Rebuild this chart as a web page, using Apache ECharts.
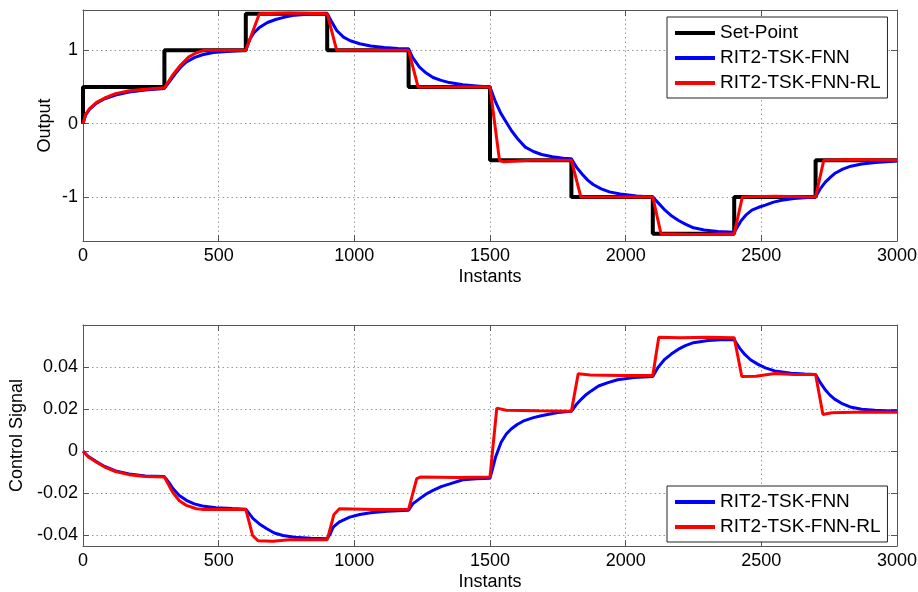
<!DOCTYPE html>
<html>
<head>
<meta charset="utf-8">
<script src="https://cdn.jsdelivr.net/npm/echarts@6/dist/echarts.min.js"></script>
<style>
  html, body { margin: 0; padding: 0; background: #fff; }
  #main { width: 918px; height: 592px; }
</style>
</head>
<body>
<div id="main"></div>
<script>
// set-point steps [instant, value]
var setPoint = [[0,0],[0,0.5],[300,0.5],[300,1],[600,1],[600,1.5],[900,1.5],[900,1],[1200,1],[1200,0.5],
  [1500,0.5],[1500,-0.5],[1800,-0.5],[1800,-1],[2100,-1],[2100,-1.5],[2400,-1.5],[2400,-1],[2700,-1],[2700,-0.5],[3000,-0.5]];

// output of RIT2-TSK-FNN (blue)
var outFnn = [[0,0],[10,0.12],[25,0.2],[50,0.28],[80,0.34],[120,0.39],[170,0.43],[230,0.46],[300,0.48],
  [320,0.58],[340,0.68],[360,0.77],[380,0.84],[410,0.9],[440,0.94],[480,0.97],[530,0.985],[600,1.0],
  [615,1.15],[630,1.24],[650,1.31],[680,1.38],[710,1.42],[740,1.45],[780,1.48],[840,1.495],[900,1.5],
  [915,1.4],[935,1.27],[960,1.18],[985,1.13],[1020,1.09],[1060,1.06],[1110,1.04],[1160,1.025],[1200,1.02],
  [1215,0.9],[1240,0.77],[1265,0.69],[1290,0.63],[1320,0.59],[1350,0.56],[1400,0.53],[1450,0.515],[1500,0.5],
  [1520,0.3],[1540,0.14],[1560,0.02],[1580,-0.1],[1605,-0.22],[1630,-0.32],[1660,-0.38],[1690,-0.42],[1730,-0.45],[1770,-0.47],[1800,-0.48],
  [1820,-0.6],[1840,-0.69],[1860,-0.77],[1880,-0.83],[1910,-0.89],[1940,-0.93],[1980,-0.96],[2040,-0.985],[2100,-1.0],
  [2120,-1.08],[2145,-1.18],[2170,-1.26],[2195,-1.32],[2220,-1.37],[2250,-1.42],[2290,-1.45],[2340,-1.47],[2400,-1.48],
  [2410,-1.42],[2426,-1.32],[2445,-1.24],[2465,-1.18],[2490,-1.14],[2515,-1.11],[2545,-1.07],[2575,-1.045],[2620,-1.02],[2700,-1.0],
  [2715,-0.9],[2735,-0.8],[2755,-0.73],[2770,-0.68],[2800,-0.62],[2830,-0.58],[2870,-0.55],[2920,-0.53],[3000,-0.51]];

// output of RIT2-TSK-FNN-RL (red)
var outFnnRl = [[0,0],[10,0.13],[25,0.21],[50,0.29],[80,0.35],[120,0.41],[170,0.45],[230,0.47],[300,0.49],
  [330,0.66],[360,0.8],[390,0.91],[420,0.97],[445,1.0],[520,1.0],[600,1.0],
  [625,1.25],[650,1.5],[760,1.51],[900,1.5],
  [935,1.0],[1100,1.0],[1200,1.0],
  [1235,0.5],[1380,0.5],[1500,0.5],
  [1535,-0.5],[1550,-0.52],[1650,-0.5],[1800,-0.5],
  [1835,-1.0],[1950,-1.0],[2100,-1.0],
  [2130,-1.5],[2250,-1.51],[2400,-1.5],
  [2430,-1.0],[2550,-0.99],[2700,-1.0],
  [2730,-0.5],[2850,-0.49],[3000,-0.5]];

// control signal of RIT2-TSK-FNN (blue)
var ctrlFnn = [[0,0],[20,-0.0025],[50,-0.005],[80,-0.0072],[120,-0.0093],[170,-0.0108],[230,-0.0117],[300,-0.012],
  [315,-0.0145],[332,-0.0178],[355,-0.021],[381,-0.0233],[410,-0.025],[440,-0.026],[490,-0.0268],[550,-0.0272],[600,-0.0275],
  [612,-0.0295],[627,-0.032],[650,-0.0345],[676,-0.0367],[705,-0.0388],[737,-0.04],[780,-0.0408],[840,-0.0413],[900,-0.0415],
  [912,-0.039],[922,-0.036],[945,-0.0335],[983,-0.0313],[1020,-0.03],[1060,-0.0292],[1120,-0.0285],[1200,-0.028],
  [1215,-0.025],[1241,-0.0225],[1265,-0.0203],[1290,-0.0186],[1320,-0.0168],[1352,-0.0155],[1400,-0.0135],[1450,-0.013],[1500,-0.0128],
  [1510,-0.008],[1520,-0.003],[1541,0.0043],[1560,0.0082],[1578,0.0106],[1600,0.0127],[1627,0.0146],[1660,0.016],[1689,0.0169],[1750,0.0184],[1800,0.019],
  [1818,0.0222],[1837,0.0248],[1855,0.027],[1873,0.0287],[1900,0.031],[1935,0.0326],[1970,0.034],[2030,0.035],[2100,0.0355],
  [2120,0.04],[2144,0.0437],[2168,0.0462],[2193,0.0484],[2220,0.0502],[2250,0.0516],[2304,0.0526],[2350,0.053],[2400,0.053],
  [2420,0.049],[2439,0.046],[2460,0.0435],[2488,0.0413],[2515,0.0396],[2549,0.0382],[2610,0.0371],[2660,0.0367],[2700,0.0365],
  [2718,0.0325],[2734,0.0295],[2752,0.0268],[2770,0.0248],[2800,0.0225],[2832,0.0209],[2870,0.02],[2918,0.0195],[3000,0.019]];

// control signal of RIT2-TSK-FNN-RL (red)
var ctrlFnnRl = [[0,0],[20,-0.0027],[50,-0.0052],[80,-0.0075],[120,-0.0096],[170,-0.0111],[230,-0.012],[300,-0.0122],
  [330,-0.0194],[355,-0.0235],[381,-0.0257],[418,-0.0273],[440,-0.0276],[520,-0.0275],[600,-0.0276],
  [625,-0.04],[645,-0.0425],[700,-0.0427],[760,-0.042],[900,-0.042],
  [925,-0.03],[945,-0.0273],[1080,-0.0276],[1200,-0.0275],
  [1230,-0.013],[1245,-0.0122],[1380,-0.0125],[1500,-0.0122],
  [1525,0.0205],[1560,0.0195],[1680,0.0192],[1800,0.019],
  [1825,0.0368],[1870,0.0362],[1980,0.036],[2100,0.036],
  [2122,0.0542],[2200,0.054],[2300,0.0542],[2400,0.054],
  [2428,0.0355],[2480,0.0357],[2550,0.037],[2620,0.0365],[2700,0.0365],
  [2727,0.0175],[2760,0.0183],[2880,0.0187],[3000,0.0185]];

var xTicks = 500;
var outTicks = [-1, 0, 1];
var ctrlTicks = [-0.04, -0.02, 0, 0.02, 0.04];

var font = 'Liberation Sans, Arial, sans-serif';
var boxColor = '#555';
var gridLine = { show: true, lineStyle: { color: '#999', type: [1.5, 3], width: 1 } };

function xAx(gi, pos, main) {
  return {
    type: 'value', gridIndex: gi, position: pos, min: 0, max: 3000, interval: xTicks,
    axisLine: { show: true, onZero: false, lineStyle: { color: boxColor, width: 1 } },
    axisTick: { show: true, inside: true, length: 6, lineStyle: { color: boxColor } },
    axisLabel: { show: main, color: '#000', fontSize: 18, fontFamily: font, margin: 6,
      formatter: function (v) { return String(v); } },
    splitLine: main ? gridLine : { show: false },
    name: main ? 'Instants' : '', nameLocation: 'middle', nameGap: 27, nameMoveOverlap: false,
    nameTextStyle: { color: '#000', fontSize: 18, fontFamily: font }
  };
}
function yAx(gi, pos, main, min, max, ticks, name, gap) {
  return {
    type: 'value', gridIndex: gi, position: pos, min: min, max: max,
    axisLine: { show: true, onZero: false, lineStyle: { color: boxColor, width: 1 } },
    axisTick: { show: true, inside: true, length: 6, customValues: ticks, lineStyle: { color: boxColor } },
    axisLabel: { show: main, customValues: ticks, color: '#000', fontSize: 18, fontFamily: font, margin: 5,
      formatter: function (v) { return String(v); } },
    splitLine: main ? gridLine : { show: false },
    name: main ? name : '', nameLocation: 'middle', nameGap: gap, nameMoveOverlap: false,
    nameTextStyle: { color: '#000', fontSize: 18, fontFamily: font }
  };
}
function line(name, data, color, width, xi, yi, z) {
  return {
    name: name, type: 'line', data: data, xAxisIndex: xi, yAxisIndex: yi,
    showSymbol: false, symbol: 'none', z: z,
    lineStyle: { color: color, width: width }, itemStyle: { color: color }
  };
}
var legendBase = {
  orient: 'vertical', left: 667, icon: 'rect', itemWidth: 40, itemHeight: 4, itemGap: 1,
  padding: [4, 7, 3, 8], backgroundColor: '#fff', borderColor: '#222', borderWidth: 1, borderRadius: 0,
  textStyle: { color: '#000', fontSize: 19, fontFamily: font, lineHeight: 24 }
};

var chart = echarts.init(document.getElementById('main'));
chart.setOption({
  animation: false,
  backgroundColor: '#fff',
  grid: [
    { left: 83, top: 10, width: 814, height: 231, containLabel: false, outerBoundsMode: 'none' },
    { left: 83, top: 325, width: 814, height: 221, containLabel: false, outerBoundsMode: 'none' }
  ],
  xAxis: [xAx(0, 'bottom', true), xAx(0, 'top', false), xAx(1, 'bottom', true), xAx(1, 'top', false)],
  yAxis: [
    yAx(0, 'left', true, -1.6, 1.55, outTicks, 'Output', 29),
    yAx(0, 'right', false, -1.6, 1.55, outTicks, '', 0),
    yAx(1, 'left', true, -0.045, 0.06, ctrlTicks, 'Control Signal', 57),
    yAx(1, 'right', false, -0.045, 0.06, ctrlTicks, '', 0)
  ],
  legend: [
    Object.assign({}, legendBase, { top: 17, data: ['Set-Point', 'RIT2-TSK-FNN', 'RIT2-TSK-FNN-RL'] }),
    Object.assign({}, legendBase, { top: 486, data: ['RIT2-TSK-FNN', 'RIT2-TSK-FNN-RL'] })
  ],
  series: [
    line('Set-Point', setPoint, '#000', 4, 0, 0, 2),
    line('RIT2-TSK-FNN', outFnn, '#0000ff', 3, 0, 0, 3),
    line('RIT2-TSK-FNN-RL', outFnnRl, '#ff0000', 3, 0, 0, 4),
    line('RIT2-TSK-FNN', ctrlFnn, '#0000ff', 3, 2, 2, 3),
    line('RIT2-TSK-FNN-RL', ctrlFnnRl, '#ff0000', 3, 2, 2, 4)
  ]
});
</script>
</body>
</html>
